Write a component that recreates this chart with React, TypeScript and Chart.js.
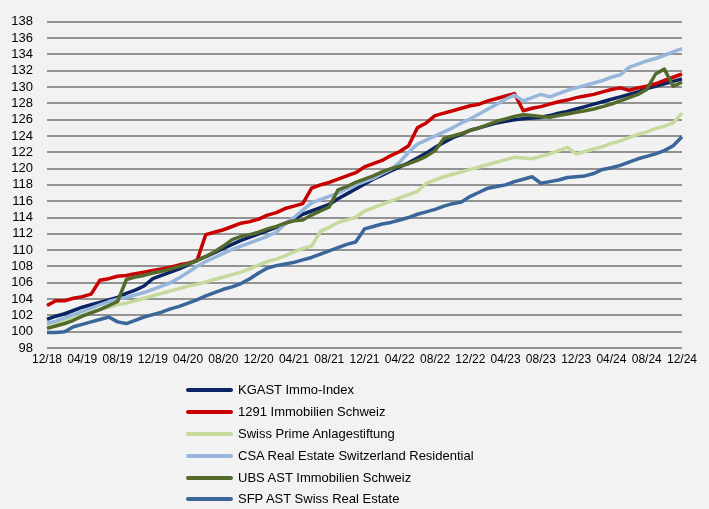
import React, { useEffect, useRef } from "react";
import { Chart, registerables } from "chart.js";

Chart.register(...registerables);

// Monthly categories 12/18 .. 12/24
const months: string[] = (() => {
  const out: string[] = [];
  for (let k = 0; k <= 72; k++) {
    const m = ((11 + k) % 12) + 1;
    const y = 18 + Math.floor((11 + k) / 12);
    out.push(String(m).padStart(2, "0") + "/" + String(y));
  }
  return out;
})();

const seriesNames = [
  "KGAST Immo-Index",
  "1291 Immobilien Schweiz",
  "Swiss Prime Anlagestiftung",
  "CSA Real Estate Switzerland Residential",
  "UBS AST Immobilien Schweiz",
  "SFP AST Swiss Real Estate",
];

const seriesColors = ["#0B2463", "#C80000", "#C6DA9E", "#97B6DB", "#546A2C", "#3A6699"];

const kgast = [
  101.5, 101.9, 102.2, 102.6, 103.0, 103.3, 103.6, 103.9, 104.2, 104.7, 105.1, 105.6,
  106.5, 106.9, 107.3, 107.7, 108.2, 108.8, 109.2, 109.7, 110.2, 110.7, 111.2, 111.6,
  112.0, 112.4, 112.8, 113.3, 113.8, 114.4, 114.8, 115.2, 115.6, 116.3, 116.9, 117.5,
  118.1, 118.7, 119.2, 119.7, 120.2, 120.7, 121.3, 121.9, 122.6, 123.2, 123.8, 124.2,
  124.7, 125.0, 125.3, 125.6, 125.8, 126.0, 126.1, 126.2, 126.3, 126.5, 126.8, 127.0,
  127.3, 127.6, 127.9, 128.2, 128.5, 128.8, 129.1, 129.4, 129.8, 130.1, 130.4, 130.7,
  131.0,
];

const immo1291 = [
  103.2, 103.8, 103.8, 104.1, 104.3, 104.6, 106.3, 106.5, 106.8, 106.9, 107.1, 107.3,
  107.5, 107.7, 107.9, 108.2, 108.4, 108.7, 111.9, 112.2, 112.5, 112.9, 113.3, 113.5,
  113.8, 114.3, 114.6, 115.1, 115.4, 115.7, 117.6, 118.0, 118.3, 118.7, 119.1, 119.5,
  120.2, 120.6, 121.0, 121.6, 122.1, 122.8, 125.0, 125.6, 126.5, 126.8, 127.1, 127.4,
  127.7, 127.9, 128.3, 128.6, 128.9, 129.2, 127.1, 127.4, 127.6, 127.9, 128.2, 128.4,
  128.7, 128.9, 129.1, 129.4, 129.7, 129.9, 129.6, 129.9, 130.1, 130.4, 130.8, 131.2,
  131.6,
];

const swissPrime = [
  100.6, 100.9, 101.3, 101.7, 102.0, 102.4, 102.7, 103.0, 103.3, 103.5, 103.8, 104.1,
  104.4, 104.7, 105.0, 105.3, 105.6, 105.8, 106.1, 106.4, 106.7, 107.0, 107.3, 107.7,
  108.2, 108.6, 108.9, 109.3, 109.8, 110.2, 110.5, 112.3, 112.8, 113.4, 113.7, 114.0,
  114.8, 115.2, 115.6, 116.0, 116.4, 116.8, 117.2, 118.2, 118.6, 119.0, 119.3, 119.6,
  119.9, 120.2, 120.5, 120.8, 121.1, 121.4, 121.3, 121.2, 121.5, 121.8, 122.2, 122.6,
  121.8, 122.1, 122.4, 122.7, 123.1, 123.4, 123.8, 124.2, 124.5, 124.9, 125.2, 125.6,
  126.8,
];

const csaResidential = [
  101.0, 101.3, 101.7, 102.1, 102.5, 102.9, 103.3, 103.7, 104.0, 104.2, 104.5, 104.8,
  105.2, 105.6, 106.0, 106.6, 107.3, 108.0, 108.6, 109.1, 109.6, 110.1, 110.5, 110.9,
  111.3, 111.7, 112.2, 113.2, 114.0, 114.9, 115.8, 116.2, 116.6, 117.0, 117.5, 118.0,
  118.4, 118.8, 119.4, 119.9, 120.8, 122.0, 123.0, 123.5, 124.0, 124.5, 125.0, 125.6,
  126.1, 126.7, 127.3, 127.9, 128.5, 129.0, 128.3, 128.7, 129.1, 128.8, 129.2, 129.6,
  129.9, 130.2, 130.5, 130.8, 131.2, 131.5, 132.4, 132.8, 133.2, 133.5, 133.9, 134.3,
  134.7,
];

const ubsAst = [
  100.4, 100.7, 101.0, 101.4, 101.9, 102.3, 102.7, 103.2, 103.7, 106.4, 106.7, 106.9,
  107.2, 107.4, 107.7, 108.0, 108.3, 108.7, 109.2, 109.8, 110.5, 111.3, 111.7, 111.9,
  112.2, 112.6, 112.9, 113.3, 113.6, 113.7, 114.3, 114.8, 115.3, 117.4, 117.8, 118.3,
  118.7, 119.1, 119.6, 120.0, 120.3, 120.6, 121.0, 121.5, 122.2, 123.7, 124.0, 124.3,
  124.7, 125.0, 125.4, 125.8, 126.1, 126.4, 126.6, 126.5, 126.4, 126.3, 126.5, 126.7,
  126.9, 127.1, 127.3, 127.6, 127.9, 128.3, 128.7, 129.1, 129.7, 131.6, 132.2, 130.1,
  130.6,
];

const sfpAst = [
  99.9, 99.9, 100.0, 100.6, 100.9, 101.2, 101.5, 101.8, 101.2, 101.0, 101.4, 101.8,
  102.1, 102.4, 102.8, 103.1, 103.5, 103.9, 104.4, 104.8, 105.2, 105.5, 105.9, 106.5,
  107.2, 107.8, 108.1, 108.3, 108.5, 108.8, 109.1, 109.5, 109.9, 110.3, 110.7, 111.0,
  112.6, 112.9, 113.2, 113.4, 113.7, 114.0, 114.4, 114.7, 115.0, 115.4, 115.7, 115.9,
  116.6, 117.1, 117.6, 117.8, 118.0, 118.4, 118.7, 119.0, 118.2, 118.4, 118.6, 118.9,
  119.0, 119.1, 119.4, 119.9, 120.1, 120.4, 120.8, 121.2, 121.5, 121.8, 122.2, 122.8,
  123.9,
];

const seriesValues = [kgast, immo1291, swissPrime, csaResidential, ubsAst, sfpAst];

const FONT = "Arial, 'Liberation Sans', sans-serif";

export default function App() {
  const canvasRef = useRef<HTMLCanvasElement | null>(null);

  useEffect(() => {
    const canvas = canvasRef.current;
    if (!canvas) return;
    const chart = new Chart(canvas, {
      type: "line",
      data: {
        labels: months,
        datasets: seriesNames.map((name, i) => ({
          label: name,
          data: seriesValues[i],
          borderColor: seriesColors[i],
          backgroundColor: seriesColors[i],
          borderWidth: 3.5,
          pointRadius: 0,
          pointHoverRadius: 0,
          tension: 0,
          fill: false,
          borderJoinStyle: "round" as const,
          order: 5 - i,
        })),
      },
      options: {
        responsive: false,
        animation: false,
        events: [],
        layout: { padding: { left: 0, right: 27, top: 15, bottom: 139 } },
        plugins: {
          legend: { display: false },
          tooltip: { enabled: false },
          title: { display: false },
        },
        scales: {
          x: {
            offset: false,
            grid: { display: false, drawTicks: false },
            border: { display: false },
            ticks: {
              autoSkip: false,
              maxRotation: 0,
              minRotation: 0,
              padding: 4,
              color: "#000",
              font: { family: FONT, size: 12 },
              callback: (_v: any, idx: number) => (idx % 4 === 0 ? months[idx] : ""),
            },
            afterFit: (scale: any) => {
              scale.height = 22;
            },
          },
          y: {
            min: 98,
            max: 138,
            grid: { color: "#939393", lineWidth: 2, drawTicks: false },
            border: { display: false },
            ticks: {
              stepSize: 2,
              autoSkip: false,
              padding: 14,
              color: "#000",
              font: { family: FONT, size: 13 },
            },
            afterFit: (scale: any) => {
              scale.width = 47;
            },
          },
        },
      },
    });
    return () => chart.destroy();
  }, []);

  const rowCenters = [390, 412, 434, 456, 478, 499];

  return (
    <div
      style={{
        position: "fixed",
        left: 0,
        top: 0,
        width: 709,
        height: 509,
        background: "#F2F2F2",
        overflow: "hidden",
        fontFamily: FONT,
      }}
    >
      <canvas ref={canvasRef} width={709} height={509} style={{ display: "block", width: 709, height: 509 }} />
      {seriesNames.map((name, i) => (
        <div key={name} style={{ position: "absolute", left: 0, top: rowCenters[i] - 9, height: 18, width: 709 }}>
          <div
            style={{
              position: "absolute",
              left: 186,
              top: 7,
              width: 47,
              height: 4,
              borderRadius: 2,
              background: seriesColors[i],
            }}
          />
          <div
            style={{
              position: "absolute",
              left: 238,
              top: 0,
              lineHeight: "18px",
              fontSize: 13,
              color: "#000",
              whiteSpace: "nowrap",
            }}
          >
            {name}
          </div>
        </div>
      ))}
    </div>
  );
}
